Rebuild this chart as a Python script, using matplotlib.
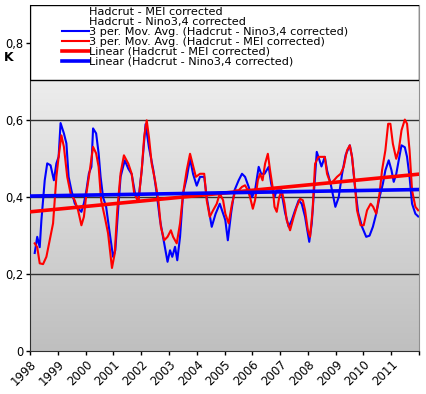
import numpy as np
import matplotlib.pyplot as plt
from matplotlib.colors import LinearSegmentedColormap
from matplotlib.lines import Line2D

# 3-month moving averages (decimal year, K)
nino_t = [1998.17, 1998.26, 1998.35, 1998.41, 1998.53, 1998.62, 1998.74, 1998.86, 1998.95, 1999.03,
          1999.10, 1999.22, 1999.31, 1999.39, 1999.49, 1999.61, 1999.73, 1999.85, 1999.94, 2000.03,
          2000.12, 2000.21, 2000.27, 2000.38, 2000.47, 2000.54, 2000.63, 2000.74, 2000.87, 2000.99,
          2001.07, 2001.17, 2001.26, 2001.41, 2001.54, 2001.66, 2001.78, 2001.90, 2002.02, 2002.16,
          2002.28, 2002.44, 2002.56, 2002.68, 2002.83, 2002.95, 2003.04, 2003.12, 2003.22, 2003.30,
          2003.40, 2003.51, 2003.64, 2003.76, 2003.87, 2004.00, 2004.12, 2004.27, 2004.36, 2004.54,
          2004.68, 2004.83, 2004.99, 2005.03, 2005.12, 2005.24, 2005.36, 2005.51, 2005.63, 2005.74,
          2005.87, 2005.99, 2006.10, 2006.23, 2006.32, 2006.44, 2006.59, 2006.68, 2006.80, 2006.88,
          2007.04, 2007.18, 2007.31, 2007.42, 2007.54, 2007.67, 2007.78, 2007.90, 2008.05, 2008.14,
          2008.24, 2008.32, 2008.40, 2008.49, 2008.61, 2008.69, 2008.82, 2008.99, 2009.11, 2009.23,
          2009.36, 2009.51, 2009.59, 2009.69, 2009.81, 2009.95, 2010.10, 2010.22, 2010.34, 2010.46,
          2010.58, 2010.70, 2010.79, 2010.91, 2011.01, 2011.09, 2011.18, 2011.27, 2011.37, 2011.49,
          2011.57, 2011.66, 2011.75, 2011.87, 2011.97]
nino_v = [0.255, 0.297, 0.27, 0.34, 0.444, 0.488, 0.483, 0.444, 0.488, 0.505,
          0.593, 0.566, 0.54, 0.453, 0.418, 0.384, 0.371, 0.362, 0.384, 0.418,
          0.462, 0.479, 0.579, 0.566, 0.514, 0.453, 0.40, 0.375, 0.306, 0.245,
          0.262, 0.366, 0.453, 0.496, 0.474, 0.46, 0.41, 0.39, 0.47, 0.59,
          0.53, 0.47, 0.41, 0.34, 0.28, 0.232, 0.262, 0.245, 0.271, 0.236,
          0.297, 0.41, 0.45, 0.50, 0.46, 0.43, 0.453, 0.453, 0.40, 0.323,
          0.357, 0.383, 0.349, 0.34, 0.288, 0.36, 0.418, 0.444, 0.461, 0.453,
          0.427, 0.40, 0.418, 0.479, 0.461, 0.461, 0.479, 0.435, 0.40, 0.418,
          0.418, 0.36, 0.323, 0.34, 0.366, 0.392, 0.383, 0.349, 0.284, 0.332,
          0.435, 0.518, 0.50, 0.48, 0.505, 0.47, 0.435, 0.375, 0.40, 0.46,
          0.51, 0.535, 0.505, 0.43, 0.36, 0.323, 0.297, 0.30, 0.323, 0.357,
          0.40, 0.435, 0.47, 0.496, 0.47, 0.44, 0.46, 0.496, 0.535, 0.53,
          0.505, 0.453, 0.383, 0.357, 0.35]

mei_t = [1998.17, 1998.26, 1998.35, 1998.47, 1998.59, 1998.71, 1998.83, 1998.95, 1999.03, 1999.13,
         1999.22, 1999.34, 1999.46, 1999.61, 1999.73, 1999.85, 1999.94, 2000.03, 2000.12, 2000.27,
         2000.38, 2000.47, 2000.56, 2000.69, 2000.81, 2000.95, 2001.05, 2001.14, 2001.26, 2001.38,
         2001.54, 2001.66, 2001.75, 2001.90, 2002.02, 2002.11, 2002.20, 2002.28, 2002.38, 2002.50,
         2002.62, 2002.71, 2002.83, 2002.95, 2003.07, 2003.15, 2003.28, 2003.40, 2003.51, 2003.64,
         2003.76, 2003.85, 2003.97, 2004.12, 2004.27, 2004.36, 2004.47, 2004.59, 2004.72, 2004.83,
         2004.95, 2005.03, 2005.15, 2005.27, 2005.39, 2005.51, 2005.63, 2005.74, 2005.84, 2005.92,
         2006.02, 2006.10, 2006.20, 2006.28, 2006.37, 2006.46, 2006.56, 2006.64, 2006.73, 2006.80,
         2006.88, 2006.97, 2007.06, 2007.16, 2007.24, 2007.36, 2007.49, 2007.60, 2007.72, 2007.82,
         2007.90, 2008.00, 2008.08, 2008.17, 2008.26, 2008.38, 2008.51, 2008.61, 2008.69, 2008.82,
         2008.94, 2009.05, 2009.18, 2009.29, 2009.41, 2009.51, 2009.59, 2009.69, 2009.77, 2009.90,
         2010.01, 2010.13, 2010.26, 2010.35, 2010.46, 2010.58, 2010.67, 2010.79, 2010.89, 2010.97,
         2011.06, 2011.18, 2011.27, 2011.37, 2011.49, 2011.57, 2011.66, 2011.75, 2011.87, 2011.97]
mei_v = [0.28, 0.27, 0.228, 0.226, 0.245, 0.288, 0.332, 0.453, 0.505, 0.561,
         0.531, 0.453, 0.41, 0.392, 0.366, 0.327, 0.349, 0.41, 0.453, 0.531,
         0.514, 0.479, 0.392, 0.349, 0.306, 0.216, 0.254, 0.366, 0.462, 0.509,
         0.487, 0.461, 0.41, 0.388, 0.47, 0.557, 0.60, 0.557, 0.487, 0.444,
         0.392, 0.323, 0.288, 0.297, 0.314, 0.297, 0.28, 0.332, 0.41, 0.47,
         0.513, 0.487, 0.453, 0.461, 0.461, 0.392, 0.349, 0.366, 0.383, 0.41,
         0.392, 0.357, 0.332, 0.383, 0.418, 0.418, 0.427, 0.431, 0.418, 0.40,
         0.37, 0.392, 0.444, 0.461, 0.444, 0.487, 0.513, 0.47, 0.427, 0.375,
         0.362, 0.40, 0.418, 0.383, 0.34, 0.314, 0.349, 0.375, 0.396, 0.392,
         0.366, 0.314, 0.297, 0.366, 0.487, 0.505, 0.505, 0.505, 0.461, 0.435,
         0.444, 0.453, 0.461, 0.479, 0.522, 0.535, 0.505, 0.435, 0.366, 0.327,
         0.327, 0.366, 0.383, 0.375, 0.357, 0.41, 0.47, 0.522, 0.591, 0.591,
         0.539, 0.50, 0.522, 0.574, 0.602, 0.591, 0.522, 0.418, 0.375, 0.366]

# linear trend lines (start / end value)
trend_t = [1998.0, 2012.0]
trend_mei = [0.362, 0.460]
trend_nino = [0.403, 0.420]

years = list(range(1998, 2013))
year_labels = [str(y) for y in range(1998, 2012)] + ['']
yticks = [0, 0.2, 0.4, 0.6, 0.8]
ytick_labels = ['0', '0,2', '0,4', '0,6', '0,8']

fig = plt.figure(figsize=(4.26, 3.94), dpi=100)
ax = fig.add_axes([30/426, 43/394, 389/426, 346/394])

# grey gradient plot area
cmap = LinearSegmentedColormap.from_list('bg', ['#bfbfbf', '#fafafa'])
ax.imshow(np.linspace(0, 1, 256)[:, None], extent=[1998, 2012, 0, 0.9], origin='lower',
          aspect='auto', cmap=cmap, zorder=0)

for g in [0.2, 0.4, 0.6]:
    ax.axhline(g, color='#303030', lw=1.0, zorder=1)

ax.plot(trend_t, trend_mei, color='#ff0000', lw=2.6, zorder=3)
ax.plot(trend_t, trend_nino, color='#0000ff', lw=2.6, zorder=3)
ax.plot(nino_t, nino_v, color='#0000ff', lw=1.5, zorder=2)
ax.plot(mei_t, mei_v, color='#ff0000', lw=1.5, zorder=2.5)

# legend box across the top
ax.axhspan(0.705, 0.9, facecolor='white', edgecolor='black', lw=1, zorder=4)
handles = [Line2D([], [], color='none'),
           Line2D([], [], color='none'),
           Line2D([], [], color='#0000ff', lw=1.5),
           Line2D([], [], color='#ff0000', lw=1.5),
           Line2D([], [], color='#ff0000', lw=2.6),
           Line2D([], [], color='#0000ff', lw=2.6)]
labels = ['Hadcrut - MEI corrected',
          'Hadcrut - Nino3,4 corrected',
          '3 per. Mov. Avg. (Hadcrut - Nino3,4 corrected)',
          '3 per. Mov. Avg. (Hadcrut - MEI corrected)',
          'Linear (Hadcrut - MEI corrected)',
          'Linear (Hadcrut - Nino3,4 corrected)']
leg = ax.legend(handles, labels, loc='upper left', bbox_to_anchor=(0.082, 0.995),
                frameon=False, fontsize=8.1, labelspacing=0.0, handlelength=2.4,
                handletextpad=0.0, borderpad=0, borderaxespad=0)
leg.set_zorder(5)

ax.set_xlim(1998, 2012)
ax.set_ylim(0, 0.9)
ax.set_xticks(years)
ax.set_xticklabels(year_labels, rotation=45, ha='right', va='top', rotation_mode='anchor',
                   fontsize=8.5)
ax.set_yticks(yticks)
ax.set_yticklabels(ytick_labels, fontsize=8.3)
ax.tick_params(direction='out', length=3, width=1, pad=2)
ax.text(-0.055, 0.763, 'K', transform=ax.get_yaxis_transform(), ha='center', va='center',
        fontsize=9, fontweight='bold')

ax.spines['top'].set_visible(False)
ax.spines['right'].set_color('#909090')
ax.spines['left'].set_color('#303030')
ax.spines['bottom'].set_color('#303030')

fig.savefig('out.png', dpi=100)
